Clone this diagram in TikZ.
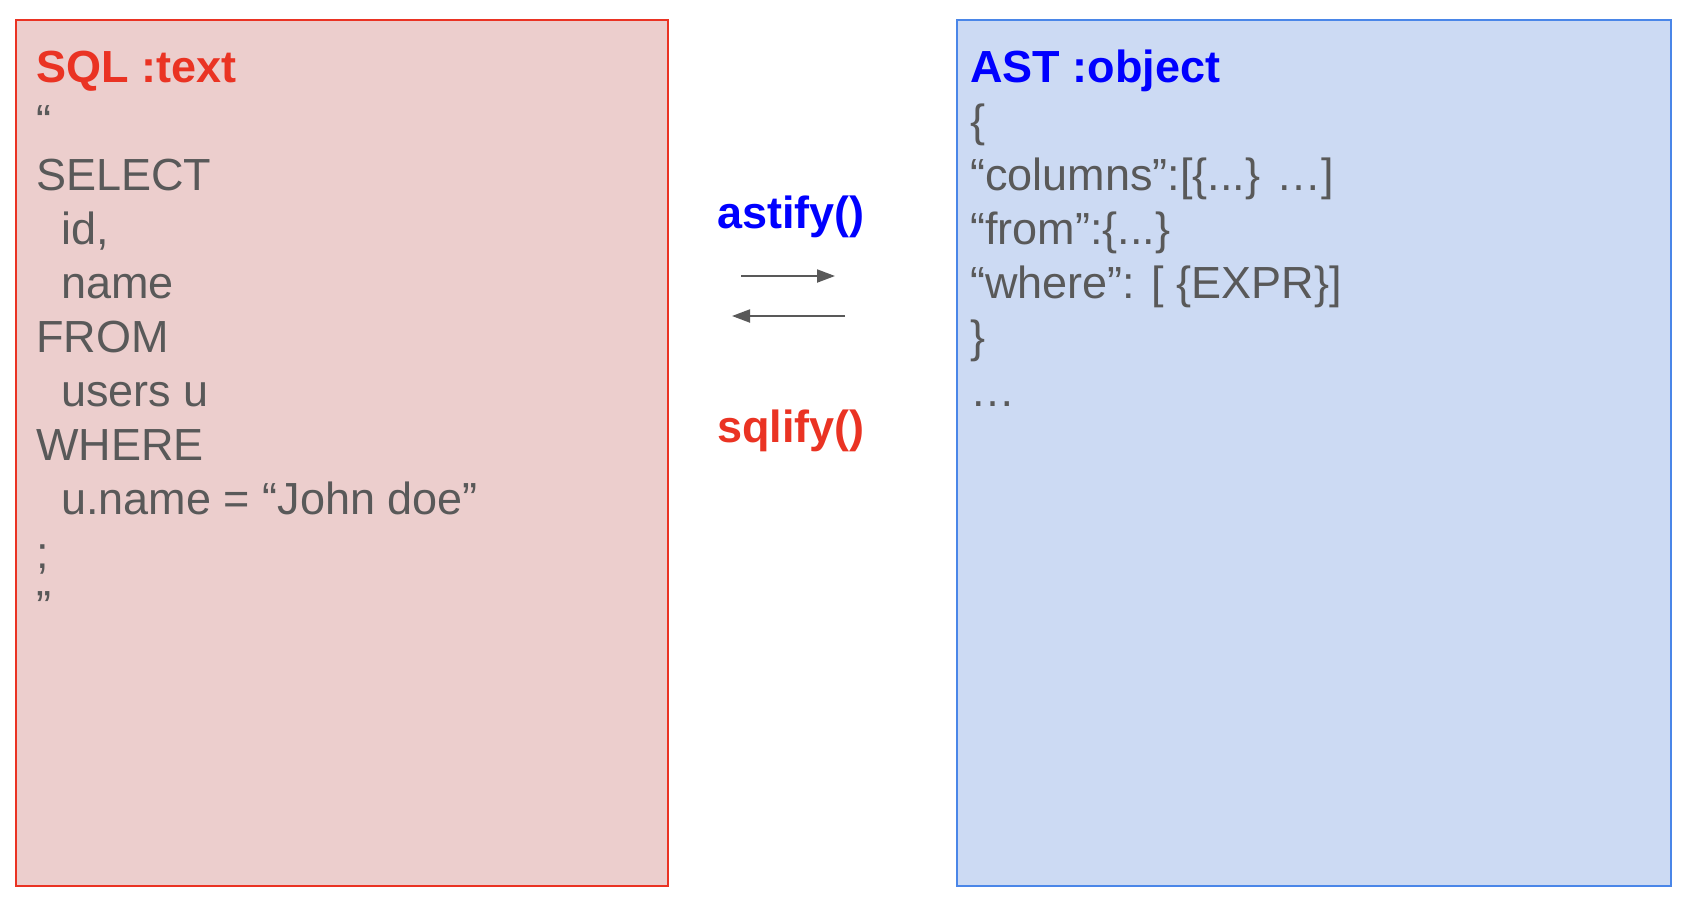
\documentclass[tikz,border=0pt]{standalone}
\usepackage{fontspec}
\setmainfont{Liberation Sans}
\usetikzlibrary{arrows.meta}

\definecolor{sqlred}{RGB}{234,51,35}
\definecolor{sqlfill}{RGB}{236,206,205}
\definecolor{astblue}{RGB}{0,0,255}
\definecolor{astline}{RGB}{74,134,232}
\definecolor{astfill}{RGB}{204,218,243}
\definecolor{codegray}{RGB}{89,89,89}

\tikzset{
    line/.style={anchor=base west, inner sep=0pt, text=codegray, font=\fontsize{45}{54}\selectfont},
    title/.style={anchor=base west, inner sep=0pt, font=\fontsize{45}{54}\selectfont\bfseries},
    conv/.style={draw=codegray, line width=2pt, -{Triangle[length=18pt,width=13pt]}}
}

\begin{document}
\begin{tikzpicture}[x=1pt,y=-1pt]
    \useasboundingbox (0,0) rectangle (1688,900);
    \draw[sqlred, fill=sqlfill, line width=2pt] (16,19.5) rectangle (668,886);
    \draw[astline, fill=astfill, line width=2pt] (957,19.5) rectangle (1671,886);

    \node[title, text=sqlred] (sqlhead) at (36,82) {SQL :text};
    \node[line] (sql1) at (36,136) {“};
    \node[line] (sql2) at (36,190) {SELECT};
    \node[line] (sql3) at (61,244) {id,};
    \node[line] (sql4) at (61,298) {name};
    \node[line] (sql5) at (36,352) {FROM};
    \node[line] (sql6) at (61,406) {users u};
    \node[line] (sql7) at (36,460) {WHERE};
    \node[line] (sql8) at (61,514) {u.name = “John doe”};
    \node[line] (sql9) at (36,568) {;};
    \node[line] (sql10) at (36,622) {”};

    \node[title, text=astblue] (asthead) at (970,82) {AST :object};
    \node[line] (ast1) at (970,136) {\{};
    \node[line] (ast2) at (970,190) {“columns”:[\{...\} …]};
    \node[line] (ast3) at (970,244) {“from”:\{...\}};
    \node[line] (ast4) at (970,298) {“where”: [ \{EXPR\}]};
    \node[line] (ast5) at (970,352) {\}};
    \node[line] (ast6) at (970,406) {…};

    \node[title, text=astblue] (astify) at (717,228) {astify()};
    \node[title, text=sqlred] (sqlify) at (717,442) {sqlify()};

    \coordinate (to1) at (741,276);
    \coordinate (to2) at (835,276);
    \coordinate (back1) at (845,316);
    \coordinate (back2) at (732,316);
    \draw[conv] (to1) -- (to2);
    \draw[conv] (back1) -- (back2);
\end{tikzpicture}
\end{document}
